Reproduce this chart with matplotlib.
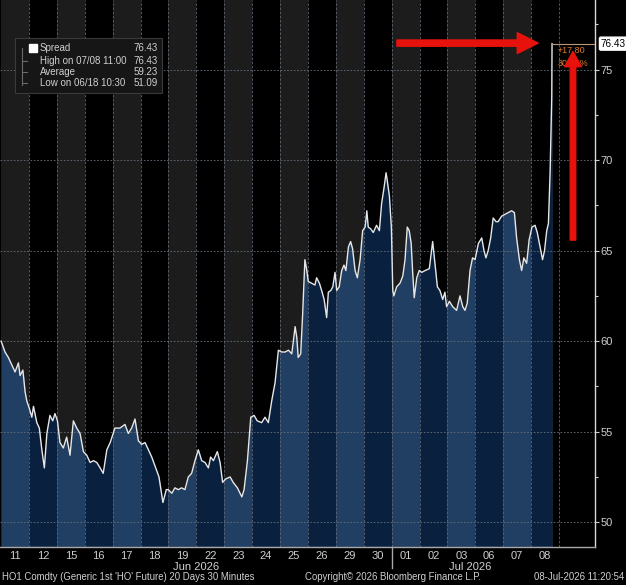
import matplotlib.pyplot as plt
from matplotlib.patches import Rectangle
from matplotlib.lines import Line2D

# trading days on the x axis (20 days, 30 minute bars)
days = ['11', '12', '15', '16', '17', '18', '19', '22', '23', '24', '25', '26', '29', '30',
        '01', '02', '03', '06', '07', '08']
months = ['Jun 2026', 'Jul 2026']
month_pos = [7.0, 16.8]

# position in trading days since 06/11 open
t = [0.00, 0.14, 0.26, 0.38, 0.50, 0.62, 0.68, 0.78, 0.86, 0.92, 1.01, 1.10, 1.16, 1.28, 1.37,
     1.46, 1.55, 1.64, 1.75, 1.85, 1.93, 2.02, 2.11, 2.23, 2.35, 2.47, 2.59, 2.71, 2.83, 2.95,
     3.07, 3.19, 3.31, 3.43, 3.55, 3.66, 3.79, 3.91, 4.08, 4.26, 4.44, 4.56, 4.68, 4.80, 4.92,
     5.04, 5.16, 5.28, 5.40, 5.52, 5.66, 5.80, 5.92, 5.99, 6.12, 6.23, 6.35, 6.47, 6.59, 6.71,
     6.83, 6.95, 7.07, 7.19, 7.31, 7.43, 7.51, 7.61, 7.75, 7.85, 7.94, 8.06, 8.21, 8.32, 8.47,
     8.63, 8.71, 8.83, 8.95, 9.07, 9.18, 9.34, 9.46, 9.58, 9.70, 9.82, 9.94, 10.06, 10.18, 10.30,
     10.42, 10.54, 10.60, 10.65, 10.74, 10.81, 10.89, 10.96, 11.01, 11.13, 11.25, 11.31, 11.41,
     11.49, 11.58, 11.67, 11.73, 11.82, 11.89, 11.97, 12.03, 12.12, 12.21, 12.29, 12.36, 12.45,
     12.53, 12.60, 12.69, 12.77, 12.87, 12.96, 13.05, 13.11, 13.16, 13.25, 13.34, 13.46, 13.56,
     13.64, 13.73, 13.80, 13.84, 13.92, 13.99, 14.04, 14.08, 14.18, 14.30, 14.40, 14.48, 14.56,
     14.63, 14.70, 14.75, 14.81, 14.90, 14.99, 15.08, 15.20, 15.35, 15.47, 15.55, 15.64, 15.73,
     15.83, 15.91, 15.97, 16.07, 16.19, 16.33, 16.45, 16.55, 16.63, 16.71, 16.81, 16.90, 16.99,
     17.11, 17.23, 17.31, 17.38, 17.46, 17.55, 17.64, 17.74, 17.82, 17.94, 18.06, 18.18, 18.30,
     18.40, 18.48, 18.58, 18.66, 18.74, 18.84, 18.93, 19.03, 19.14, 19.22, 19.32, 19.41, 19.48,
     19.56, 19.62, 19.68, 19.74, 19.75]

spread = [60.0, 59.4, 59.1, 58.7, 58.3, 58.8, 58.1, 58.4, 57.2, 56.7, 56.3, 55.8, 56.4, 55.5, 55.2,
          54.0, 53.0, 54.9, 55.9, 55.6, 56.0, 55.6, 54.4, 54.1, 54.7, 53.7, 55.6, 55.2, 54.9, 53.9,
          53.7, 53.3, 53.4, 53.3, 53.0, 52.7, 54.0, 54.4, 55.2, 55.2, 55.4, 54.9, 55.2, 55.7, 54.5,
          54.3, 54.4, 54.0, 53.6, 53.1, 52.5, 51.09, 51.8, 51.8, 51.6, 51.9, 51.8, 51.9, 51.8, 52.5,
          52.7, 53.4, 54.0, 53.4, 53.3, 53.0, 53.6, 53.4, 53.9, 53.3, 52.2, 52.4, 52.5, 52.2, 51.9,
          51.4, 51.8, 53.4, 55.8, 55.9, 55.6, 55.5, 55.8, 55.5, 56.7, 57.7, 59.5, 59.4, 59.4, 59.5,
          59.3, 60.8, 60.2, 59.1, 59.3, 61.5, 64.5, 63.9, 63.3, 63.2, 63.1, 63.5, 63.2,
          62.8, 62.3, 61.3, 62.7, 62.8, 63.0, 63.8, 62.8, 63.0, 63.9, 64.2, 63.9, 65.2,
          65.5, 65.1, 63.9, 63.5, 64.5, 66.1, 66.3, 67.2, 66.3, 66.2, 66.0, 66.4, 66.1,
          67.6, 68.5, 69.3, 68.9, 68.0, 66.3, 62.8, 62.5, 63.0, 63.2, 63.6, 64.5, 66.3,
          66.1, 65.4, 63.9, 62.4, 63.5, 63.9, 63.8, 63.9, 64.0, 65.5, 64.3, 63.0, 62.8,
          62.3, 62.7, 61.9, 62.2, 61.9, 61.7, 62.5, 61.9, 61.7, 62.1, 63.9, 64.6, 64.5,
          65.4, 65.7, 65.0, 64.6, 65.0, 65.7, 66.8, 66.6, 66.6, 66.9, 67.0, 67.1, 67.2,
          67.1, 65.7, 64.5, 63.9, 64.6, 64.3, 65.6, 66.3, 66.4, 66.0, 65.2, 64.5, 65.0,
          66.1, 66.5, 69.3, 73.5, 76.43]

legend_labels = ['Spread', 'High on 07/08 11:00', 'Average', 'Low on 06/18 10:30']
legend_values = [76.43, 76.43, 59.23, 51.09]
change_abs = '+17.80'
change_pct = '30.36%'

y_ticks = [50, 55, 60, 65, 70, 75]
y_minor = [52.5, 57.5, 62.5, 67.5, 72.5, 77.5]

FONT = ['Liberation Sans', 'DejaVu Sans']
plt.rcParams['font.family'] = FONT
TXT = '#cfcfcf'
W, H = 626, 585


def fx(x):
    return x / W


def fy(y):
    return 1 - y / H


fig = plt.figure(figsize=(6.26, 5.85), dpi=100, facecolor='black')
ax = fig.add_axes([0, fy(546.5), fx(595), 546.5 / H])
ax.set_facecolor('black')

# alternating day bands
for k in range(len(days)):
    ax.axvspan(k, k + 1, color='#1c1c1c' if k % 2 == 0 else 'black', lw=0, zorder=0)

# area under the spread, two tones per day
poly = ax.fill_between(t, spread, 48.66, color='#213e63', lw=0, zorder=1)
clip = poly.get_paths()[0]
for k in range(1, len(days), 2):
    band = ax.axvspan(k, k + 1, color='#0a203f', lw=0, zorder=1.5)
    band.set_clip_path(clip, ax.transData)

# dashed grid
for y in y_ticks:
    ax.axhline(y, color='#66707c', lw=0.6, ls=(0, (2, 2)), zorder=2)
for k in range(1, len(days) + 1):
    ax.axvline(k, color='#5c6672', lw=0.6, ls=(0, (3, 2)), zorder=2)

ax.plot(t, spread, color='#e6e6e6', lw=1.0, zorder=3)

# axes
for s in ['top', 'left']:
    ax.spines[s].set_visible(False)
ax.spines['right'].set_color('#d8d8d8')
ax.spines['bottom'].set_color('#a8a8a8')
ax.spines['right'].set_linewidth(1.0)
ax.spines['bottom'].set_linewidth(1.0)

ax.yaxis.tick_right()
ax.set_yticks(y_ticks)
ax.set_yticklabels([str(v) for v in y_ticks])
ax.set_yticks(y_minor, minor=True)
ax.tick_params(axis='y', which='major', colors=TXT, labelsize=8, length=3, width=0.8, pad=1)
ax.tick_params(axis='y', which='minor', colors=TXT, length=2, width=0.8)

ax.set_xticks([k + 0.5 for k in range(len(days))])
ax.set_xticklabels(days)
ax.tick_params(axis='x', colors=TXT, labelsize=8, length=0, pad=3)

ax.set_xlim(-0.04, 21.29)
ax.set_ylim(48.66, 78.84)

xt = ax.get_xaxis_transform()
ax.plot([14, 14], [0, -0.04], transform=xt, color='#a8a8a8', lw=1.0, clip_on=False)
for m, p in zip(months, month_pos):
    ax.text(p, -0.037, m, transform=xt, ha='center', va='center', color=TXT, fontsize=8)

# last value tag and change bracket
yt = ax.get_yaxis_transform()
ax.text(1.01, spread[-1], f'{spread[-1]:.2f}', transform=yt, ha='left', va='center',
        fontsize=7.2, color='black',
        bbox=dict(boxstyle='round,pad=0.15', fc='white', ec='white'))
ax.plot([t[-1], 21.29], [spread[-1], spread[-1]], color='#b89a78', lw=0.8, zorder=4)
ax.text(t[-1] + 0.2, 76.05, change_abs, color='#e07b2a', fontsize=6.5, va='center', zorder=4)
ax.text(t[-1] + 0.2, 75.35, change_pct, color='#e07b2a', fontsize=6.5, va='center', zorder=4)

# red arrows
red = '#e8120c'
ax.annotate('', xy=(19.25, 76.46), xytext=(14.19, 76.46),
            arrowprops=dict(width=4.5, headwidth=15, headlength=15, color=red, shrink=0), zorder=6)
ax.annotate('', xy=(20.5, 76.0), xytext=(20.5, 65.58),
            arrowprops=dict(width=4.0, headwidth=12, headlength=11, color=red, shrink=0), zorder=6)

# legend box
fig.patches.append(Rectangle((fx(15), fy(93)), fx(147), 55 / H, transform=fig.transFigure,
                             fc='#161616', ec='#3a3a3a', lw=0.8, zorder=5))
fig.lines.append(Line2D([fx(22), fx(22)], [fy(48), fy(85)], transform=fig.transFigure,
                        color='#6a6a6a', lw=0.8, zorder=6))
fig.patches.append(Rectangle((fx(28.5), fy(52)), fx(8), 8 / H, transform=fig.transFigure,
                             fc='white', ec='white', zorder=6))
rows = [48, 61, 72, 83]
for yy in rows[1:]:
    fig.lines.append(Line2D([fx(22), fx(27)], [fy(yy), fy(yy)], transform=fig.transFigure,
                            color='#6a6a6a', lw=0.8, zorder=6))
for lab, val, yy in zip(legend_labels, legend_values, rows):
    fig.text(fx(40), fy(yy), lab, color=TXT, fontsize=7, va='center', ha='left', zorder=7)
    fig.text(fx(158), fy(yy), f'{val:.2f}', color=TXT, fontsize=7, va='center', ha='right',
             zorder=7)

# footer
fig.text(fx(2), fy(577), "HO1 Comdty (Generic 1st 'HO' Future) 20 Days 30 Minutes",
         color=TXT, fontsize=6.9, va='center', ha='left')
fig.text(fx(305), fy(577), 'Copyright\u00a9 2026 Bloomberg Finance L.P.',
         color=TXT, fontsize=6.9, va='center', ha='left')
fig.text(fx(624), fy(577), '08-Jul-2026 11:20:54', color=TXT, fontsize=6.9, va='center',
         ha='right')

fig.savefig('out.png', dpi=100, facecolor='black')
